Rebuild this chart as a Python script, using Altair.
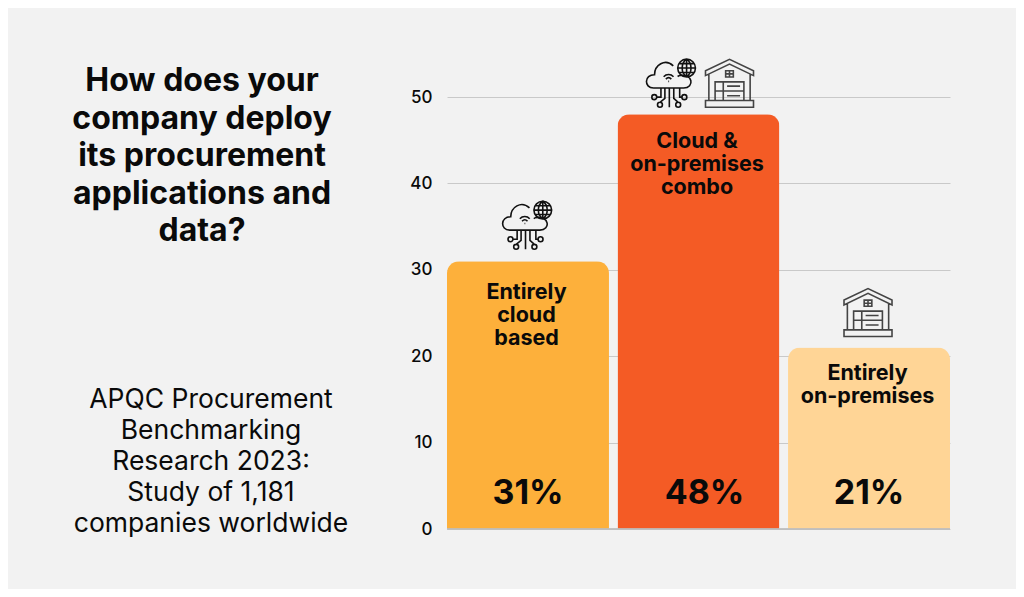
import altair as alt
import pandas as pd

categories = ["Entirely cloud based", "Cloud & on-premises combo", "Entirely on-premises"]
values = [31, 48, 21]
percent_labels = ["31%", "48%", "21%"]
bar_lines = [["Entirely", "cloud", "based"], ["Cloud &", "on-premises", "combo"], ["Entirely", "on-premises"]]
bar_colors = ["#FDB03B", "#F45B25", "#FFD596"]
title_lines = ["How does your", "company deploy", "its procurement", "applications and", "data?"]
source_lines = ["APQC Procurement", "Benchmarking", "Research 2023:", "Study of 1,181", "companies worldwide"]
y_ticks = [0, 10, 20, 30, 40, 50]

FONT = "Inter"
BG = "#F2F2F2"
INK = "#0A0A0A"

df = pd.DataFrame({"cat": categories, "val": values, "pct": percent_labels, "lines": bar_lines})

x = alt.X("cat:N", sort=categories, axis=None,
          scale=alt.Scale(paddingInner=0.05, paddingOuter=0))
y = alt.Y("val:Q",
          scale=alt.Scale(domain=[0, 50], nice=False),
          axis=alt.Axis(values=y_ticks, title=None, domain=False, ticks=False, grid=True,
                        gridColor="#C9C9C9", gridWidth=1.2,
                        labelFont=FONT, labelFontSize=17, labelFontWeight=500, labelColor=INK,
                        labelPadding=15))

bars = alt.Chart(df).mark_bar(cornerRadiusTopLeft=12, cornerRadiusTopRight=12).encode(
    x=x, y=y,
    color=alt.Color("cat:N", sort=categories, legend=None,
                    scale=alt.Scale(domain=categories, range=bar_colors)),
)
baseline = alt.Chart(df).mark_rule(color="#BDBDBD", strokeWidth=1.2).encode(y=alt.datum(0))


def name_layer(cat, dy):
    return alt.Chart(df[df.cat == cat]).mark_text(
        font=FONT, fontSize=21.5, fontWeight=700, color=INK, baseline="top", align="center",
        lineHeight=23, dx=-1.5, dy=dy).encode(x=x, y=y, text="lines:N")


def pct_layer(cat, dx):
    return alt.Chart(df[df.cat == cat]).mark_text(
        font=FONT, fontSize=34, fontWeight=700, color=INK, baseline="middle", align="center",
        dx=dx, dy=-35).encode(x=x, y=alt.datum(0), text="pct:N")


C0, C1, C2 = categories
texts = [name_layer(C0, 21), name_layer(C1, 17), name_layer(C2, 15),
         pct_layer(C0, 0), pct_layer(C1, 6), pct_layer(C2, 0)]

title = alt.Chart(pd.DataFrame({"t": [title_lines]})).mark_text(
    font=FONT, fontSize=32, fontWeight=700, color=INK, align="center", baseline="top",
    lineHeight=37.5).encode(x=alt.value(-245), y=alt.value(-31), text="t:N")
source = alt.Chart(pd.DataFrame({"t": [source_lines]})).mark_text(
    font=FONT, fontSize=26.5, fontWeight=400, color=INK, align="center", baseline="top",
    lineHeight=31).encode(x=alt.value(-236), y=alt.value(290), text="t:N")

# Icon outlines, each in a -1..1 box
CLOUD = ("M-0.72,0.2 C-1.12,0.2 -1.1,-0.35 -0.68,-0.34 C-0.68,-0.72 -0.26,-1.02 0.08,-0.7 "
         "M0.3,-0.3 C0.9,-0.42 0.95,0.2 0.5,0.2 L-0.72,0.2 M0.3,-0.3 L0.26,-0.26")
WIRES = ("M-0.42,0.2 L-0.42,0.57 L-0.59,0.57 M-0.26,0.2 L-0.26,0.62 L-0.46,0.78 "
         "M-0.08,0.2 L-0.08,0.98 M0.1,0.2 L0.1,0.62 L0.28,0.78 M0.34,0.2 L0.34,0.57 L0.43,0.57 "
         "M-0.79,0.57 a0.1,0.1 0 1,0 0.2,0 a0.1,0.1 0 1,0 -0.2,0 "
         "M-0.56,0.88 a0.1,0.1 0 1,0 0.2,0 a0.1,0.1 0 1,0 -0.2,0 "
         "M0.18,0.88 a0.1,0.1 0 1,0 0.2,0 a0.1,0.1 0 1,0 -0.2,0 "
         "M0.43,0.57 a0.1,0.1 0 1,0 0.2,0 a0.1,0.1 0 1,0 -0.2,0")
WIFI = ("M-0.31,-0.26 C-0.2,-0.38 -0.02,-0.38 0.09,-0.26 M-0.22,-0.16 C-0.15,-0.24 -0.07,-0.24 0,-0.16 "
        "M-0.12,-0.07 L-0.09,-0.07")
GLOBE = ("M0.26,-0.61 a0.36,0.36 0 1,0 0.72,0 a0.36,0.36 0 1,0 -0.72,0 "
         "M0.62,-0.97 L0.62,-0.25 M0.26,-0.61 L0.98,-0.61 M0.31,-0.79 L0.93,-0.79 M0.31,-0.43 L0.93,-0.43 "
         "M0.62,-0.97 C0.38,-0.8 0.38,-0.42 0.62,-0.25 M0.62,-0.97 C0.86,-0.8 0.86,-0.42 0.62,-0.25")
HOUSE = ("M-1,-0.32 L-1,-0.52 L0,-1 L1,-0.52 L1,-0.32 L0,-0.8 Z "
         "M-0.86,-0.38 L-0.86,0.72 M0.86,-0.38 L0.86,0.72 "
         "M-1,0.72 L1,0.72 L1,1 L-1,1 Z "
         "M-0.6,0.72 L-0.6,-0.06 L0.6,-0.06 L0.6,0.72 "
         "M-0.6,0.32 L0.6,0.32 M-0.26,-0.06 L-0.26,0.72 "
         "M-0.1,0.12 L0.44,0.12 M-0.1,0.52 L0.44,0.52 "
         "M-0.16,-0.52 L0.16,-0.52 L0.16,-0.26 L-0.16,-0.26 Z M0,-0.52 L0,-0.26 M-0.16,-0.39 L0.16,-0.39")


def icon(path, cat, color, size, dx, dy, width=1.6):
    row = df[df.cat == cat]
    return alt.Chart(row).mark_point(
        shape=path, size=size, filled=False, stroke=color, strokeWidth=width,
        xOffset=dx, yOffset=dy, opacity=1).encode(x=x, y=y)


icons = []
for cat, dx, dy in [(C0, -0.5, -36), (C1, -27.2, -31.2)]:
    for p in (CLOUD, WIRES, WIFI, GLOBE):
        icons.append(icon(p, cat, "#111111", 49.3 * 49.3, dx, dy))
for cat, dx, dy in [(C1, 31, -31), (C2, -1, -35)]:
    icons.append(icon(HOUSE, cat, "#444444", 48 * 48, dx, dy))

chart = alt.layer(bars, baseline, *texts, title, source, *icons).properties(
    width=503, height=432, background=BG,
    padding={"left": 439, "top": 89, "right": 66, "bottom": 60},
    autosize=alt.AutoSizeParams(type="none"),
).configure_view(stroke=None)

chart.save("out.html", embed_options={"renderer": "svg", "actions": False})
